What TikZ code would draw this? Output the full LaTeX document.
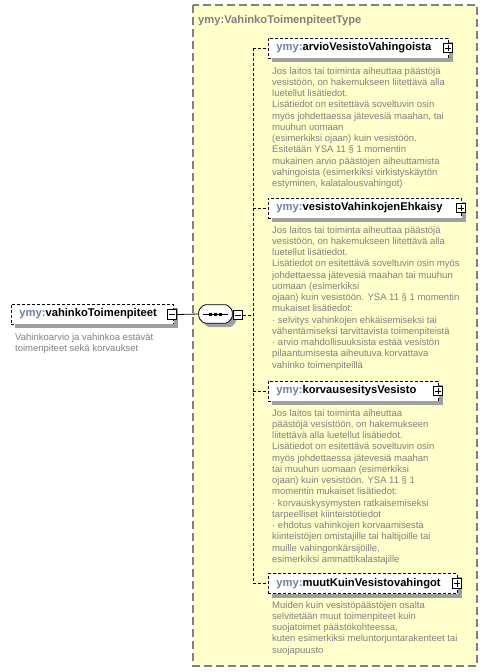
\documentclass[tikz,border=0pt]{standalone}
\usepackage{fontspec}
\setmainfont{Liberation Sans}
\usetikzlibrary{positioning}
\definecolor{typeyellow}{RGB}{255,255,204}
\definecolor{nsblue}{RGB}{112,128,160}
\definecolor{docgray}{RGB}{128,128,128}
\definecolor{framegray}{RGB}{128,128,128}
\definecolor{shadowgray}{RGB}{160,160,160}
\tikzset{
  typebox/.style={draw=framegray, fill=typeyellow, line width=1.5pt, dash pattern=on 8pt off 4pt},
  typetitle/.style={anchor=base west, inner sep=0pt, text=framegray, font=\fontsize{11.2}{13}\selectfont\bfseries},
  elembox/.style={draw=black, line width=0.8pt, dash pattern=on 3pt off 2pt, fill=white,
    minimum height=20pt, inner xsep=8pt, inner ysep=2pt, anchor=west, align=left,
    font=\fontsize{11.2}{13}\selectfont\bfseries},
  iconbox/.style={draw=black, solid, line width=0.8pt, fill=white, minimum size=9.5pt, inner sep=0pt},
  seqbox/.style={minimum width=33pt, minimum height=18pt, inner sep=0pt},
  seqline/.style={draw=black, line width=0.8pt, fill=white, rounded corners=1.5pt},
  doctext/.style={anchor=north west, align=left, inner sep=0pt, text=docgray, font=\fontsize{9.5}{11.25}\selectfont},
  connector/.style={draw=black, line width=0.8pt, dash pattern=on 3pt off 2pt},
}
\begin{document}
\begin{tikzpicture}[x=1pt,y=-1pt]
\useasboundingbox (0,0) rectangle (487,672);

% complex type
\draw[typebox] (193,5) rectangle (477,666);
\node[typetitle] (title) at (198,23.5) {ymy:VahinkoToimenpiteetType};

% sequence (shadow first)
\node[seqbox] (seq) at (215.5,314) {};
\fill[shadowgray, rounded corners=1.5pt] ([xshift=4pt]seq.west) -- ([xshift=9pt,yshift=-4pt]seq.north west)
  -- ([xshift=-1pt,yshift=-4pt]seq.north east) -- ([xshift=4pt]seq.east) -- ([xshift=4pt,yshift=-8pt]seq.east)
  -- ([xshift=-1pt,yshift=-4pt]seq.south east) -- ([xshift=9pt,yshift=-4pt]seq.south west)
  -- ([xshift=4pt,yshift=-8pt]seq.west) -- cycle;
\draw[seqline] ([yshift=4pt]seq.west) -- ([xshift=5pt]seq.north west) -- ([xshift=-5pt]seq.north east)
  -- ([yshift=4pt]seq.east) -- ([yshift=-4pt]seq.east) -- ([xshift=-5pt]seq.south east)
  -- ([xshift=5pt]seq.south west) -- ([yshift=-4pt]seq.west) -- cycle;
\draw ([xshift=4pt]seq.west) -- ([xshift=-4pt]seq.east);
\foreach \dx in {-5,0,5}
  \fill ([xshift=\dx pt]seq.center) +(-1.5,-1.5) rectangle +(1.5,1.5);

% elements
\node[elembox, text width=146pt] (root) at (11,314) {\textcolor{nsblue}{ymy:}vahinkoToimenpiteet};
\node[elembox, text width=164pt] (arvio) at (268,48) {\textcolor{nsblue}{ymy:}arvioVesistoVahingoista};
\node[elembox, text width=177pt] (ehkaisy) at (268,208) {\textcolor{nsblue}{ymy:}vesistoVahinkojenEhkaisy};
\node[elembox, text width=154pt] (korvaus) at (268,391) {\textcolor{nsblue}{ymy:}korvausesitysVesisto};
\node[elembox, text width=173pt] (muut) at (268,583.5) {\textcolor{nsblue}{ymy:}muutKuinVesistovahingot};
\foreach \e in {root,arvio,ehkaisy,korvaus,muut} {
  \fill[shadowgray] ([yshift=-4pt]\e.north east) rectangle ([xshift=4pt,yshift=-4pt]\e.south east);
  \fill[shadowgray] ([xshift=4pt]\e.south west) rectangle ([yshift=-4pt]\e.south east);
}

% icons
\node[iconbox] (rootminus) at (172,314.5) {};
\draw ([xshift=2pt]rootminus.west) -- ([xshift=-2pt]rootminus.east);
\node[iconbox] (seqminus) at (238,315) {};
\draw ([xshift=2pt]seqminus.west) -- ([xshift=-2pt]seqminus.east);
\foreach \e in {arvio,ehkaisy,korvaus,muut} {
  \node[iconbox] (\e-plus) at ([xshift=-1pt]\e.east) {};
  \draw ([xshift=2pt]\e-plus.west) -- ([xshift=-2pt]\e-plus.east)
        ([yshift=-2pt]\e-plus.north) -- ([yshift=2pt]\e-plus.south);
}

% connectors
\draw[line width=0.8pt] (rootminus.east) -- (seq.west);
\coordinate (trunk) at (253,315);
\draw[connector] (seqminus.east) -- (trunk);
\draw[connector] (arvio.west -| trunk) -- (muut.west -| trunk);
\foreach \e in {arvio,ehkaisy,korvaus,muut}
  \draw[connector] (\e.west -| trunk) -- (\e.west);

% documentation
\node[doctext] (rootdoc) at (15,333.5) {Vahinkoarvio ja vahinkoa estävät\\toimenpiteet sekä korvaukset};
\node[doctext] (arviodoc) at (272,67) {Jos laitos tai toiminta aiheuttaa päästöjä\\
vesistöön, on hakemukseen liitettävä alla\\
luetellut lisätiedot.\\
Lisätiedot on esitettävä soveltuvin osin\\
myös johdettaessa jätevesiä maahan, tai\\
muuhun uomaan\\
(esimerkiksi ojaan) kuin vesistöön.\\
Esitetään YSA 11 § 1 momentin\\
mukainen arvio päästöjen aiheuttamista\\
vahingoista (esimerkiksi virkistyskäytön\\
estyminen, kalatalousvahingot)};
\node[doctext] (ehkaisydoc) at (272,226) {Jos laitos tai toiminta aiheuttaa päästöjä\\
vesistöön, on hakemukseen liitettävä alla\\
luetellut lisätiedot.\\
Lisätiedot on esitettävä soveltuvin osin myös\\
johdettaessa jätevesiä maahan tai muuhun\\
uomaan (esimerkiksi\\
ojaan) kuin vesistöön. YSA 11 § 1 momentin\\
mukaiset lisätiedot:\\
· selvitys vahinkojen ehkäisemiseksi tai\\
vähentämiseksi tarvittavista toimenpiteistä\\
· arvio mahdollisuuksista estää vesistön\\
pilaantumisesta aiheutuva korvattava\\
vahinko toimenpiteillä};
\node[doctext] (korvausdoc) at (272,409) {Jos laitos tai toiminta aiheuttaa\\
päästöjä vesistöön, on hakemukseen\\
liitettävä alla luetellut lisätiedot.\\
Lisätiedot on esitettävä soveltuvin osin\\
myös johdettaessa jätevesiä maahan\\
tai muuhun uomaan (esimerkiksi\\
ojaan) kuin vesistöön. YSA 11 § 1\\
momentin mukaiset lisätiedot:\\
· korvauskysymysten ratkaisemiseksi\\
tarpeelliset kiinteistötiedot\\
· ehdotus vahinkojen korvaamisesta\\
kiinteistöjen omistajille tai haltijoille tai\\
muille vahingonkärsijöille,\\
esimerkiksi ammattikalastajille};
\node[doctext] (muutdoc) at (272,601) {Muiden kuin vesistöpäästöjen osalta\\
selvitetään muut toimenpiteet kuin\\
suojatoimet päästökohteessa,\\
kuten esimerkiksi meluntorjuntarakenteet tai\\
suojapuusto};
\end{tikzpicture}
\end{document}
